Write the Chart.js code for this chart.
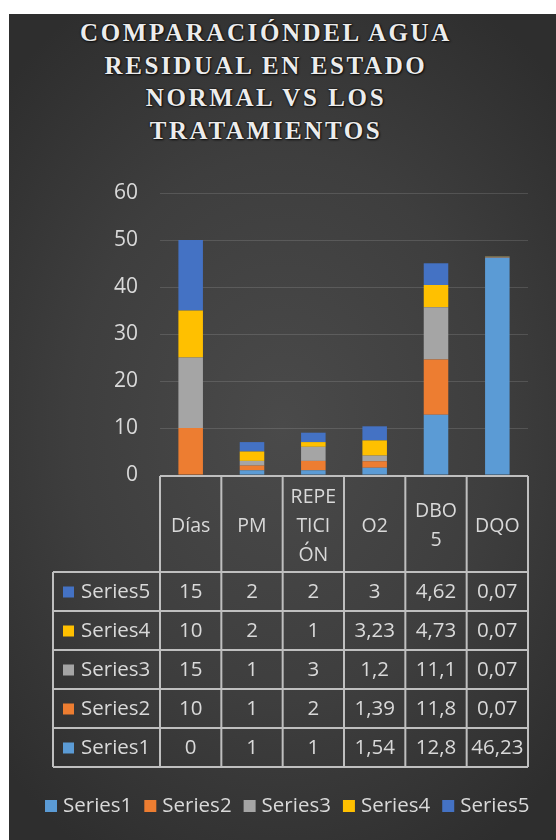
<!DOCTYPE html>
<html><head><meta charset="utf-8">
<script src="https://cdn.jsdelivr.net/npm/chart.js@4"></script>
<style>
html,body{margin:0;padding:0;background:#fff;width:556px;height:840px;overflow:hidden;}
#bg{position:absolute;left:9px;top:14px;width:547px;height:826px;
 background:radial-gradient(ellipse 70% 60% at 50% 50%, #4a4a4a 0%, #3e3e3e 55%, #2e2e2e 100%);}
#title{position:absolute;left:0px;top:17px;width:532px;text-align:center;
 font-family:'Liberation Serif','DejaVu Serif','Times New Roman',Times,serif;font-weight:700;font-size:25px;
 line-height:32.5px;letter-spacing:2.6px;color:#ececec;
 text-shadow:0 0 2px #000,1px 1px 2px #111;}
#wrap{position:absolute;left:0;top:0;width:556px;height:840px;}
</style></head>
<body>
<div id="bg"></div>
<div id="title">COMPARACIÓNDEL AGUA<br>RESIDUAL EN ESTADO<br>NORMAL VS LOS<br>TRATAMIENTOS</div>
<div id="wrap"><canvas id="c" width="556" height="840"></canvas></div>
<script>
const categories = ['Días','PM','REPETICIÓN','O2','DBO5','DQO'];
const headerLabels = [['Días'],['PM'],['REPE','TICI','ÓN'],['O2'],['DBO','5'],['DQO']];
const seriesNames = ['Series1','Series2','Series3','Series4','Series5'];
const series1 = [0, 1, 1, 1.54, 12.8, 46.23];
const series2 = [10, 1, 2, 1.39, 11.8, 0.07];
const series3 = [15, 1, 3, 1.2, 11.1, 0.07];
const series4 = [10, 2, 1, 3.23, 4.73, 0.07];
const series5 = [15, 2, 2, 3, 4.62, 0.07];
const yTicks = [0, 10, 20, 30, 40, 50, 60];

const colors = ['#5b9bd5','#ed7d31','#a5a5a5','#ffc000','#4472c4'];
const allSeries = [series1, series2, series3, series4, series5];
const FONT = '"Open Sans", "DejaVu Sans", sans-serif';
const TXT = '#d9d9d9';
const LINE = '#bfbfbf';

// pick an installed serif font for the title
(function(){
  const cands = ['Liberation Serif','DejaVu Serif','Noto Serif','Tinos','FreeSerif','Times New Roman','Nimbus Roman','Times'];
  const c = document.createElement('canvas').getContext('2d');
  const s = 'COMPARACIÓNDEL AGUA mmmiiiWW';
  c.font = 'bold 40px monospace'; const wm = c.measureText(s).width;
  c.font = 'bold 40px sans-serif'; const ws = c.measureText(s).width;
  for (const f of cands){
    c.font = 'bold 40px "' + f + '", monospace'; const a = c.measureText(s).width;
    c.font = 'bold 40px "' + f + '", sans-serif'; const b = c.measureText(s).width;
    if (a !== wm && b !== ws){ document.getElementById('title').style.fontFamily = '"' + f + '", serif'; break; }
  }
})();

function fmt(v){ return String(v).replace('.', ','); }

const tablePlugin = {
  id: 'dataTable',
  afterDraw(chart){
    const ctx = chart.ctx, xs = chart.scales.x, ca = chart.chartArea;
    const n = categories.length;
    const edges = [];
    for (let i = 0; i <= n; i++){
      if (i === 0) edges.push(ca.left);
      else if (i === n) edges.push(ca.right);
      else edges.push((xs.getPixelForValue(i-1) + xs.getPixelForValue(i)) / 2);
    }
    const top = ca.bottom + 1, headBottom = 572, rowH = 39;
    const labelLeft = 53;
    const rowsOrder = [4,3,2,1,0];
    const tableBottom = headBottom + rowH * rowsOrder.length;
    ctx.save();
    ctx.strokeStyle = LINE; ctx.lineWidth = 2;
    ctx.beginPath();
    ctx.moveTo(edges[0], top); ctx.lineTo(edges[n], top);
    for (let r = 0; r <= rowsOrder.length; r++){
      const y = headBottom + r * rowH;
      ctx.moveTo(labelLeft, y); ctx.lineTo(edges[n], y);
    }
    for (let i = 0; i <= n; i++){
      ctx.moveTo(edges[i], top); ctx.lineTo(edges[i], tableBottom);
    }
    ctx.moveTo(labelLeft, headBottom); ctx.lineTo(labelLeft, tableBottom);
    ctx.stroke();

    ctx.fillStyle = TXT;
    ctx.font = '19.5px ' + FONT;
    ctx.textAlign = 'center'; ctx.textBaseline = 'middle';
    const lh = 29, hc = 526;
    headerLabels.forEach((lines, i) => {
      const cx = (edges[i] + edges[i+1]) / 2;
      const y0 = hc - (lines.length - 1) * lh / 2;
      lines.forEach((t, k) => ctx.fillText(t, cx, y0 + k * lh));
    });
    ctx.font = '20.5px ' + FONT;
    rowsOrder.forEach((s, r) => {
      const cy = headBottom + r * rowH + rowH / 2 + 1;
      ctx.fillStyle = colors[s];
      ctx.fillRect(63, cy - 6, 11, 11);
      ctx.fillStyle = TXT;
      ctx.textAlign = 'left';
      ctx.fillText(seriesNames[s], 81, cy);
      ctx.textAlign = 'center';
      allSeries[s].forEach((v, i) => {
        ctx.fillText(fmt(v), (edges[i] + edges[i+1]) / 2, cy);
      });
    });

    // legend
    let lx = 45; const ly = 806;
    ctx.font = '20.5px ' + FONT;
    ctx.textAlign = 'left';
    seriesNames.forEach((name, s) => {
      ctx.fillStyle = colors[s];
      ctx.fillRect(lx, ly - 6, 12, 12);
      ctx.fillStyle = TXT;
      ctx.fillText(name, lx + 18, ly);
      lx += 18 + ctx.measureText(name).width + 12;
    });
    ctx.restore();
  }
};

new Chart(document.getElementById('c'), {
  type: 'bar',
  data: {
    labels: categories,
    datasets: allSeries.map((d, i) => ({
      label: seriesNames[i], data: d, backgroundColor: colors[i],
      borderWidth: 0, barPercentage: 0.4, categoryPercentage: 1
    }))
  },
  options: {
    responsive: false, animation: false,
    layout: { padding: { left: 0, right: 28, top: 193, bottom: 365 } },
    plugins: { legend: { display: false }, title: { display: false }, tooltip: { enabled: false } },
    scales: {
      x: { stacked: true, display: false },
      y: {
        stacked: true, min: 0, max: 60,
        afterFit(scale){ scale.width = 160; },
        afterBuildTicks(scale){ scale.ticks = yTicks.map(v => ({ value: v })); },
        ticks: { color: TXT, font: { family: FONT, size: 21 }, padding: 22 },
        grid: { color: 'rgba(255,255,255,0.13)', drawTicks: false, lineWidth: 1 },
        border: { display: false }
      }
    }
  },
  plugins: [tablePlugin]
});
</script>
</body></html>
